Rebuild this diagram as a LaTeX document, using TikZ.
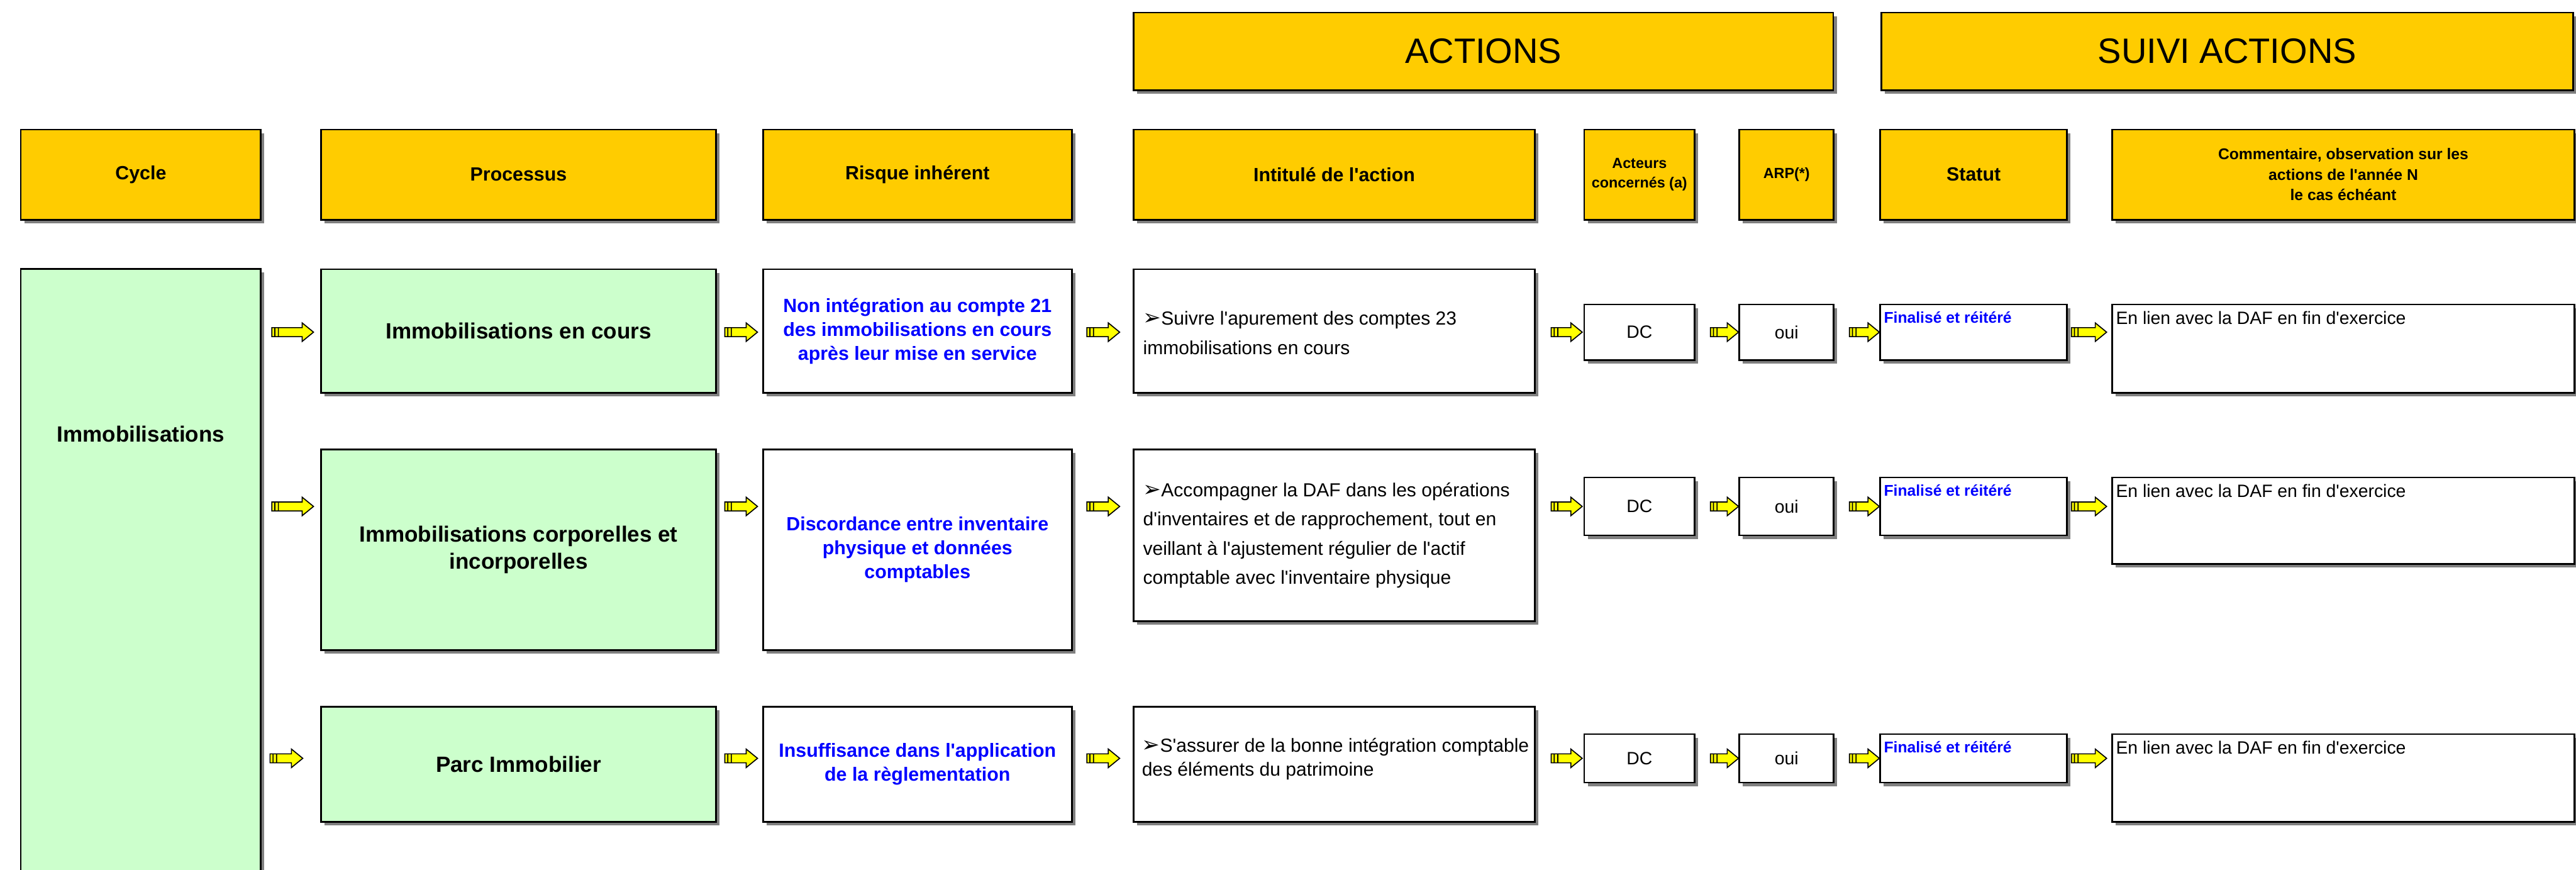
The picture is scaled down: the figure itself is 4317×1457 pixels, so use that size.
\documentclass[tikz,border=0pt]{standalone}
\usepackage{fontspec}
\setmainfont{Liberation Sans}[Ligatures=TeXOff]
\newfontfamily\symfont{DejaVu Sans}
\usepackage{xcolor}
\usepackage{tikz}
\usetikzlibrary{shadows,calc,positioning}

\definecolor{headyellow}{HTML}{FFCC00}
\definecolor{cyclegreen}{HTML}{CCFFCC}
\definecolor{flowyellow}{HTML}{FFFF00}
\definecolor{shadegray}{HTML}{808080}
\definecolor{riskblue}{HTML}{0000FF}

\newcommand{\puce}{{\symfont\fontsize{10.3}{10.3}\selectfont\char"27A2}}

\begin{document}
\begin{tikzpicture}[
  x=0.01cm, y=-0.01cm,
  box/.style={rectangle, draw=black, line width=0.8pt, inner sep=0pt, align=center,
    drop shadow={shadow xshift=0.06cm, shadow yshift=-0.06cm, fill=shadegray, opacity=1}},
  title/.style={box, fill=headyellow, minimum height=1.30cm, font=\fontsize{16.8}{20}\selectfont},
  head/.style={box, fill=headyellow, minimum height=1.51cm, font=\bfseries\fontsize{9.1}{11}\selectfont},
  smallhead/.style={head, font=\bfseries\fontsize{7}{9.1}\selectfont},
  proc/.style={box, fill=cyclegreen, minimum width=6.62cm, font=\bfseries\fontsize{10.5}{13.1}\selectfont},
  risk/.style={box, fill=white, minimum width=5.17cm, text=riskblue, font=\bfseries\fontsize{9.1}{11.4}\selectfont},
  action/.style={box, fill=white, minimum width=6.72cm},
  acttxt/.style={inner sep=0pt, align=left, anchor=west, font=\fontsize{9}{14.2}\selectfont},
  small/.style={box, fill=white, font=\fontsize{8.5}{10}\selectfont},
  statustxt/.style={inner sep=0pt, anchor=north west, text=riskblue, font=\bfseries\fontsize{7.4}{9}\selectfont},
  notetxt/.style={inner sep=0pt, anchor=north west, font=\fontsize{8.5}{10}\selectfont},
  flow/.style={draw=black, fill=flowyellow, line width=0.5pt, line join=miter,
    to path={let \p1=(\tikztostart), \p2=(\tikztotarget) in
      (\x1,\y1+0.075cm) -- (\x2-0.19cm,\y1+0.075cm) -- (\x2-0.19cm,\y1+0.155cm)
      -- (\x2,\y1) -- (\x2-0.19cm,\y1-0.155cm) -- (\x2-0.19cm,\y1-0.075cm)
      -- (\x1,\y1-0.075cm) -- cycle
      (\x1+0.05cm,\y1+0.075cm) -- (\x1+0.05cm,\y1-0.075cm)
      (\x1+0.11cm,\y1+0.075cm) -- (\x1+0.11cm,\y1-0.075cm)}}
]
  \useasboundingbox (0,0) rectangle (4317,1457);

  % Titles
  \node[title, minimum width=11.72cm] (actions) at (2486,86) {ACTIONS};
  \node[title, minimum width=11.59cm] (suivi) at (3732.5,86) {SUIVI ACTIONS};

  % Column heads
  \node[head, minimum width=4.02cm] (hcycle) at (236,292.5) {Cycle};
  \node[head, minimum width=6.62cm] (hproc) at (869,292.5) {Processus};
  \node[head, minimum width=5.17cm] (hrisk) at (1537.5,292.5) {Risque inhérent};
  \node[head, minimum width=6.72cm] (hact) at (2236,292.5) {Intitulé de l'action};
  \node[smallhead, minimum width=1.85cm] (hwho) at (2747.5,292.5) {Acteurs\\concernés (a)};
  \node[smallhead, minimum width=1.58cm] (harp) at (2994,292.5) {ARP(*)};
  \node[head, minimum width=3.13cm] (hstat) at (3307.5,292.5) {Statut};
  \node[smallhead, minimum width=7.74cm, font=\bfseries\fontsize{7.4}{9.7}\selectfont] (hnote) at (3927,292.5)
    {Commentaire, observation sur les\\actions de l'année N\\le cas échéant};

  % Cycle
  \node[box, fill=cyclegreen, minimum width=4.02cm, minimum height=10.49cm] (cyc) at (236,975.5) {};
  \node[font=\bfseries\fontsize{10.5}{13}\selectfont] (cyctxt) at (236,727) {Immobilisations};

  % Row 1
  \node[proc, minimum height=2.07cm] (p1) at (869,554.5) {Immobilisations en cours};
  \node[risk, minimum height=2.07cm] (r1) at (1537.5,554.5)
    {Non intégration au compte 21\\des immobilisations en cours\\après leur mise en service};
  \node[action, minimum height=2.07cm] (a1) at (2236,554.5) {};
  \node[acttxt] (t1) at (1915,558) {\puce Suivre l'apurement des comptes 23\\immobilisations en cours};
  \node[small, minimum width=1.85cm, minimum height=0.93cm] (dc1) at (2747.5,556.5) {DC};
  \node[small, minimum width=1.58cm, minimum height=0.93cm] (arp1) at (2994,556.5) {oui};
  \node[small, minimum width=3.13cm, minimum height=0.93cm] (st1) at (3307.5,556.5) {};
  \node[statustxt] (s1) at ($(st1.north west)+(7,13)$) {Finalisé et réitéré};
  \node[small, minimum width=7.74cm, minimum height=1.48cm] (cm1) at (3927,584) {};
  \node[notetxt] (n1) at ($(cm1.north west)+(7,12)$) {En lien avec la DAF en fin d'exercice};

  % Row 2
  \node[proc, minimum height=3.36cm] (p2) at (869,921) {Immobilisations corporelles et\\incorporelles};
  \node[risk, minimum height=3.36cm] (r2) at (1537.5,921)
    {Discordance entre inventaire\\physique et données\\comptables};
  \node[action, minimum height=2.88cm] (a2) at (2236,897) {};
  \node[acttxt, font=\fontsize{9}{13.9}\selectfont] (t2) at (1915,897)
    {\puce Accompagner la DAF dans les opérations\\d'inventaires et de rapprochement, tout en\\veillant à l'ajustement régulier de l'actif\\comptable avec l'inventaire physique};
  \node[small, minimum width=1.85cm, minimum height=0.97cm] (dc2) at (2747.5,848.5) {DC};
  \node[small, minimum width=1.58cm, minimum height=0.97cm] (arp2) at (2994,848.5) {oui};
  \node[small, minimum width=3.13cm, minimum height=0.97cm] (st2) at (3307.5,848.5) {};
  \node[statustxt] (s2) at ($(st2.north west)+(7,13)$) {Finalisé et réitéré};
  \node[small, minimum width=7.74cm, minimum height=1.45cm] (cm2) at (3927,872.5) {};
  \node[notetxt] (n2) at ($(cm2.north west)+(7,12)$) {En lien avec la DAF en fin d'exercice};

  % Row 3
  \node[proc, minimum height=1.93cm] (p3) at (869,1280.5) {Parc Immobilier};
  \node[risk, minimum height=1.93cm] (r3) at (1537.5,1280.5)
    {Insuffisance dans l'application\\de la règlementation};
  \node[action, minimum height=1.93cm] (a3) at (2236,1280.5) {};
  \node[acttxt, font=\fontsize{9}{11.4}\selectfont] (t3) at (1913,1272)
    {\puce S'assurer de la bonne intégration comptable\\des éléments du patrimoine};
  \node[small, minimum width=1.85cm, minimum height=0.81cm] (dc3) at (2747.5,1270.5) {DC};
  \node[small, minimum width=1.58cm, minimum height=0.81cm] (arp3) at (2994,1270.5) {oui};
  \node[small, minimum width=3.13cm, minimum height=0.81cm] (st3) at (3307.5,1270.5) {};
  \node[statustxt] (s3) at ($(st3.north west)+(7,13)$) {Finalisé et réitéré};
  \node[small, minimum width=7.74cm, minimum height=1.47cm] (cm3) at (3927,1303.5) {};
  \node[notetxt] (n3) at ($(cm3.north west)+(7,12)$) {En lien avec la DAF en fin d'exercice};

  % Flow row 1
  \draw[flow] ($(cyc.east |- dc1)+(17,0)$) to ($(p1.west |- dc1)+(-11,0)$);
  \draw[flow] ($(p1.east |- dc1)+(13,0)$) to ($(r1.west |- dc1)+(-8,0)$);
  \draw[flow] ($(r1.east |- dc1)+(24,0)$) to ($(a1.west |- dc1)+(-22,0)$);
  \draw[flow] ($(a1.east |- dc1)+(26,0)$) to ($(dc1.west)+(-2,0)$);
  \draw[flow] ($(dc1.east)+(25,0)$) to (arp1.west);
  \draw[flow] ($(arp1.east)+(25,0)$) to (st1.west);
  \draw[flow] ($(st1.east)+(6,0)$) to ($(cm1.west |- dc1)+(-8,0)$);

  % Flow row 2
  \draw[flow] ($(cyc.east |- dc2)+(17,0)$) to ($(p2.west |- dc2)+(-11,0)$);
  \draw[flow] ($(p2.east |- dc2)+(13,0)$) to ($(r2.west |- dc2)+(-8,0)$);
  \draw[flow] ($(r2.east |- dc2)+(24,0)$) to ($(a2.west |- dc2)+(-22,0)$);
  \draw[flow] ($(a2.east |- dc2)+(26,0)$) to ($(dc2.west)+(-2,0)$);
  \draw[flow] ($(dc2.east)+(25,0)$) to (arp2.west);
  \draw[flow] ($(arp2.east)+(25,0)$) to (st2.west);
  \draw[flow] ($(st2.east)+(6,0)$) to ($(cm2.west |- dc2)+(-8,0)$);

  % Flow row 3
  \draw[flow] ($(cyc.east |- dc3)+(14,0)$) to ($(p3.west |- dc3)+(-29,0)$);
  \draw[flow] ($(p3.east |- dc3)+(13,0)$) to ($(r3.west |- dc3)+(-8,0)$);
  \draw[flow] ($(r3.east |- dc3)+(24,0)$) to ($(a3.west |- dc3)+(-22,0)$);
  \draw[flow] ($(a3.east |- dc3)+(26,0)$) to ($(dc3.west)+(-2,0)$);
  \draw[flow] ($(dc3.east)+(25,0)$) to (arp3.west);
  \draw[flow] ($(arp3.east)+(25,0)$) to (st3.west);
  \draw[flow] ($(st3.east)+(6,0)$) to ($(cm3.west |- dc3)+(-8,0)$);

\end{tikzpicture}
\end{document}
